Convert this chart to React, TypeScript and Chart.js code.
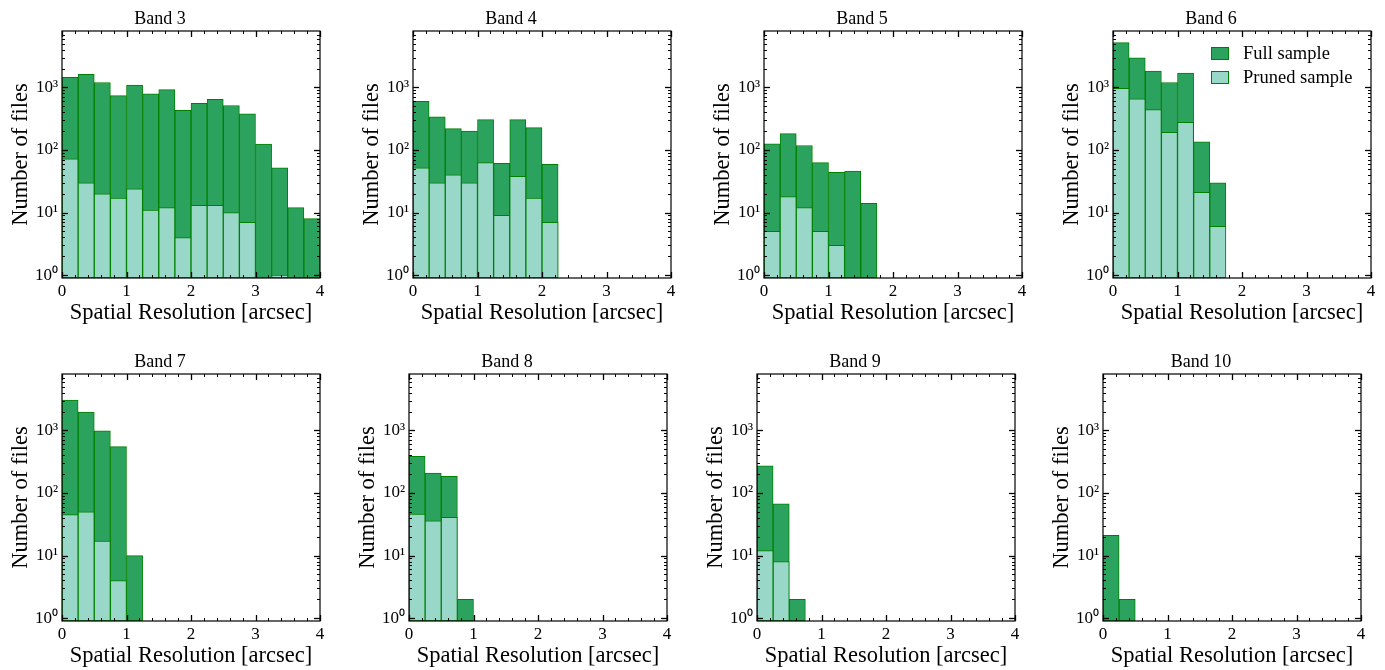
import React, { useEffect, useRef } from "react";
import { Chart, registerables } from "chart.js";

Chart.register(...registerables);

const FONT = "'Liberation Serif', 'Times New Roman', serif";

// ---- data ----
const binStarts = [0, 0.25, 0.5, 0.75, 1, 1.25, 1.5, 1.75, 2, 2.25, 2.5, 2.75, 3, 3.25, 3.5, 3.75];
const binWidth = 0.25;

const bandNames = ["Band 3", "Band 4", "Band 5", "Band 6", "Band 7", "Band 8", "Band 9", "Band 10"];

const band3Full = [1450, 1620, 1200, 740, 1090, 790, 920, 430, 555, 645, 515, 380, 124, 52, 12, 8];
const band3Pruned = [72, 30, 20, 17, 24, 11, 12, 4, 13, 13, 10, 7, null, 1, null, null];
const band4Full = [600, 340, 220, 200, 305, 61, 305, 228, 59];
const band4Pruned = [52, 30, 40, 30, 63, 9, 38, 17, 7];
const band5Full = [125, 183, 118, 63, 44, 46, 14];
const band5Pruned = [5, 18, 12, 5, 3, null, null];
const band6Full = [5200, 2980, 1830, 1200, 1700, 135, 30];
const band6Pruned = [965, 660, 444, 192, 277, 21, 6];
const band7Full = [3050, 1960, 990, 550, 10];
const band7Pruned = [45, 50, 17, 4, null];
const band8Full = [385, 208, 185, 2];
const band8Pruned = [46, 36, 41, null];
const band9Full = [273, 67, 2];
const band9Pruned = [12, 8, null];
const band10Full = [21, 2];
const band10Pruned: (number | null)[] = [];

const fullSeries = [band3Full, band4Full, band5Full, band6Full, band7Full, band8Full, band9Full, band10Full];
const prunedSeries = [band3Pruned, band4Pruned, band5Pruned, band6Pruned, band7Pruned, band8Pruned, band9Pruned, band10Pruned];

const seriesLabels = ["Full sample", "Pruned sample"];

const xMajorTicks = [0, 1, 2, 3, 4];
const xMinorTicks = [0.2, 0.4, 0.6, 0.8, 1.2, 1.4, 1.6, 1.8, 2.2, 2.4, 2.6, 2.8, 3.2, 3.4, 3.6, 3.8];
const yMajorTicks = [1, 10, 100, 1000];
const yTickLabels = ["10\u2070", "10\u00B9", "10\u00B2", "10\u00B3"];
const yMinorMultipliers = [2, 3, 4, 5, 6, 7, 8, 9];
const yMin = 0.9;
const yMax = 7980;
const xMin = 0;
const xMax = 4;

// ---- layout / style ----
const AREA_W = 258;
const AREA_H = 247;
const Y_AXIS_W = 62;
const X_AXIS_H = 52;
const TITLE_H = 31;
const RIGHT_PAD = 15;
const panelLefts = [62, 413, 764, 1113, 62, 409, 757, 1103];
const panelTops = [31, 31, 31, 31, 374, 374, 374, 374];

const FULL_FILL = "#2ca25f";
const PRUNED_FILL = "#99d8c9";
const EDGE = "#008000";

function toPoints(values: (number | null)[]) {
  const pts: { x: number; y: number }[] = [];
  values.forEach((v, i) => {
    if (v !== null && v !== undefined && i < binStarts.length) {
      pts.push({ x: binStarts[i] + binWidth / 2, y: v });
    }
  });
  return pts;
}

const frameTicksPlugin = {
  id: "frameTicks",
  afterDraw(chart: any) {
    const { ctx, chartArea: a, scales } = chart;
    const xs = scales.x;
    const ys = scales.y;
    ctx.save();
    ctx.strokeStyle = "#000";
    const line = (x1: number, y1: number, x2: number, y2: number, w: number) => {
      ctx.lineWidth = w;
      ctx.beginPath();
      ctx.moveTo(x1, y1);
      ctx.lineTo(x2, y2);
      ctx.stroke();
    };
    const MAJ = 6;
    const MIN = 3;
    xMajorTicks.forEach((v) => {
      const px = Math.round(xs.getPixelForValue(v)) + 0.5;
      line(px, a.bottom, px, a.bottom - MAJ, 1.3);
      line(px, a.top, px, a.top + MAJ, 1.3);
    });
    xMinorTicks.forEach((v) => {
      const px = Math.round(xs.getPixelForValue(v)) + 0.5;
      line(px, a.bottom, px, a.bottom - MIN, 1);
      line(px, a.top, px, a.top + MIN, 1);
    });
    yMajorTicks.forEach((v) => {
      const py = Math.round(ys.getPixelForValue(v)) + 0.5;
      line(a.left, py, a.left + MAJ, py, 1.3);
      line(a.right, py, a.right - MAJ, py, 1.3);
      yMinorMultipliers.forEach((m) => {
        const mv = v * m;
        if (mv > yMin && mv < yMax) {
          const pm = Math.round(ys.getPixelForValue(mv)) + 0.5;
          line(a.left, pm, a.left + MIN, pm, 1);
          line(a.right, pm, a.right - MIN, pm, 1);
        }
      });
    });
    ctx.lineWidth = 1.2;
    ctx.strokeRect(a.left, a.top, a.right - a.left, a.bottom - a.top);
    ctx.restore();
  },
};

const innerLegendPlugin = {
  id: "innerLegend",
  afterDraw(chart: any, _args: any, opts: any) {
    if (!opts || !opts.show) return;
    const { ctx, chartArea: a } = chart;
    ctx.save();
    ctx.font = `18.5px ${FONT}`;
    ctx.textBaseline = "middle";
    ctx.textAlign = "left";
    chart.data.datasets.forEach((ds: any, i: number) => {
      const x = a.right - 160;
      const y = a.top + 16 + i * 24;
      ctx.fillStyle = ds.backgroundColor;
      ctx.fillRect(x, y, 18, 13);
      ctx.strokeStyle = ds.borderColor;
      ctx.lineWidth = 1;
      ctx.strokeRect(x + 0.5, y + 0.5, 17, 12);
      ctx.fillStyle = "#000";
      ctx.fillText(ds.label, x + 32, y + 7);
    });
    ctx.restore();
  },
};

function makeConfig(idx: number): any {
  const barCommon = {
    borderColor: EDGE,
    borderWidth: 1,
    borderSkipped: false,
    grouped: false,
    barPercentage: 1,
    categoryPercentage: 1,
  };
  return {
    type: "bar",
    data: {
      datasets: [
        {
          ...barCommon,
          label: seriesLabels[0],
          data: toPoints(fullSeries[idx]),
          backgroundColor: FULL_FILL,
          order: 1,
        },
        {
          ...barCommon,
          label: seriesLabels[1],
          data: toPoints(prunedSeries[idx]),
          backgroundColor: PRUNED_FILL,
          order: 0,
        },
      ],
    },
    options: {
      responsive: false,
      animation: false,
      devicePixelRatio: 1,
      layout: { padding: { left: 0, right: RIGHT_PAD, top: 0, bottom: 0 } },
      plugins: {
        legend: { display: false },
        tooltip: { enabled: false },
        title: {
          display: true,
          text: bandNames[idx],
          color: "#000",
          font: { family: FONT, size: 18, weight: "normal" },
          padding: { top: 8, bottom: TITLE_H - 8 - 21.6 },
        },
        innerLegend: { show: idx === 3 },
      },
      scales: {
        x: {
          type: "linear",
          min: xMin,
          max: xMax,
          offset: false,
          grid: { display: false, drawTicks: false },
          border: { display: false },
          afterBuildTicks: (s: any) => {
            s.ticks = xMajorTicks.map((v) => ({ value: v }));
          },
          ticks: {
            color: "#000",
            font: { family: FONT, size: 17 },
            padding: 3,
            maxRotation: 0,
            autoSkip: false,
            callback: (v: any) => String(v),
          },
          title: {
            display: true,
            text: "Spatial Resolution [arcsec]",
            color: "#000",
            font: { family: FONT, size: 22.5 },
            padding: { top: 0, bottom: 3.5 },
          },
          afterFit: (s: any) => {
            s.height = X_AXIS_H;
          },
        },
        y: {
          type: "logarithmic",
          min: yMin,
          max: yMax,
          grid: { display: false, drawTicks: false },
          border: { display: false },
          afterBuildTicks: (s: any) => {
            s.ticks = yMajorTicks.map((v) => ({ value: v, major: true }));
          },
          ticks: {
            color: "#000",
            font: { family: FONT, size: 17 },
            padding: 4,
            autoSkip: false,
            callback: (v: any) => {
              const k = yMajorTicks.indexOf(Number(v));
              return k >= 0 ? yTickLabels[k] : "";
            },
          },
          title: {
            display: true,
            text: "Number of files",
            color: "#000",
            font: { family: FONT, size: 22.5 },
            padding: { top: 7.5, bottom: 0 },
          },
          afterFit: (s: any) => {
            s.width = Y_AXIS_W;
          },
        },
      },
    },
    plugins: [frameTicksPlugin, innerLegendPlugin],
  };
}

function Panel({ idx }: { idx: number }) {
  const ref = useRef<HTMLCanvasElement>(null);
  const w = Y_AXIS_W + AREA_W + RIGHT_PAD;
  const h = TITLE_H + AREA_H + X_AXIS_H;
  useEffect(() => {
    if (!ref.current) return;
    const chart = new Chart(ref.current, makeConfig(idx));
    return () => chart.destroy();
  }, [idx]);
  return (
    <div
      style={{
        position: "absolute",
        left: panelLefts[idx] - Y_AXIS_W,
        top: panelTops[idx] - TITLE_H,
        width: w,
        height: h,
      }}
    >
      <canvas ref={ref} width={w} height={h} style={{ display: "block", width: w, height: h }} />
    </div>
  );
}

export default function App() {
  return (
    <div
      style={{
        position: "absolute",
        left: 0,
        top: 0,
        width: 1385,
        height: 670,
        overflow: "hidden",
        background: "#fff",
      }}
    >
      {bandNames.map((_, i) => (
        <Panel key={i} idx={i} />
      ))}
    </div>
  );
}
